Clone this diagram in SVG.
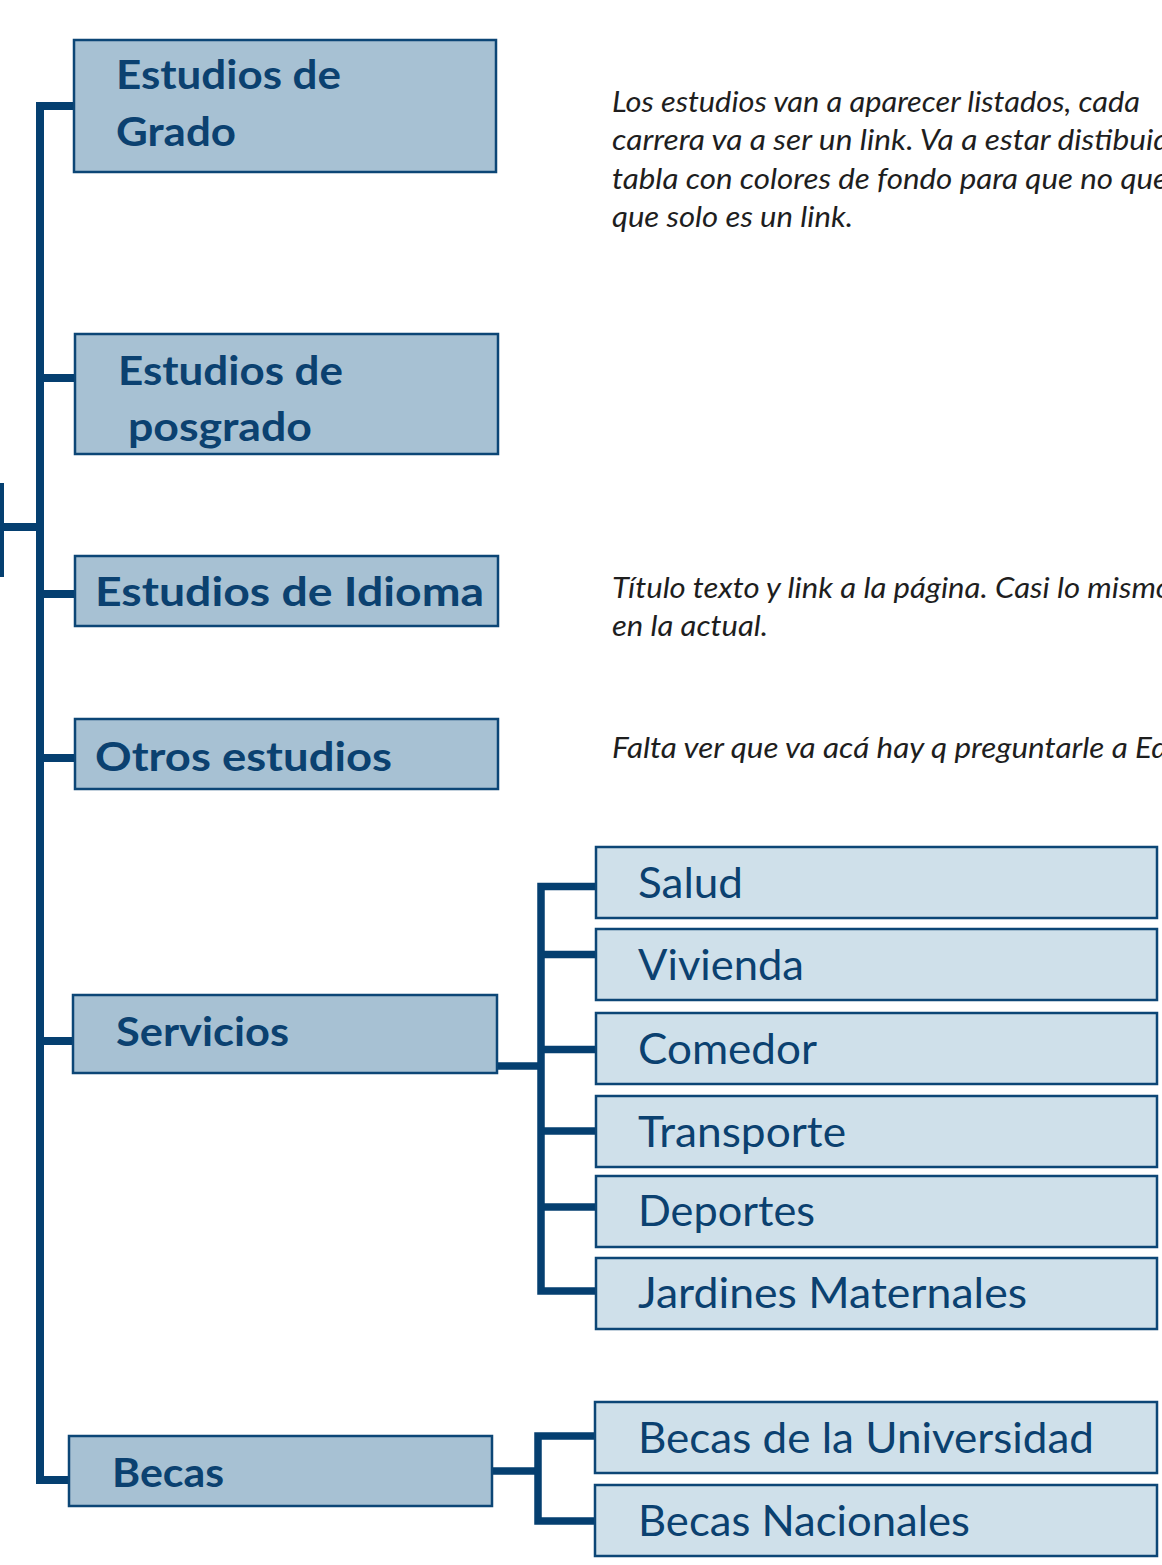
<svg xmlns="http://www.w3.org/2000/svg" width="1162" height="1565" viewBox="0 0 1162 1565">
<style>
.main rect{fill:#a7c1d3;stroke:#0c4676;stroke-width:2.5}
.sub rect{fill:#cfe0ea;stroke:#0c4676;stroke-width:2.5}
.hb{font-family:Lato,"Liberation Sans",sans-serif;font-weight:700;font-size:41px;fill:#0b4170}
.hs{font-family:Lato,"Liberation Sans",sans-serif;font-weight:400;font-size:42px;fill:#0b4170}
.note{font-family:Lato,"Liberation Sans",sans-serif;font-style:italic;font-size:28px;fill:#1e1e1e}
.conn path{fill:none;stroke:#053f70;stroke-width:8;stroke-linejoin:miter;stroke-linecap:butt}
.conn .thin{stroke-width:4}
.conn .s{stroke-width:7.5}
</style>
<rect width="1162" height="1565" fill="#fff"/>
<g id="connectors" class="conn">
<path d="M74 106 H40 V1480 H69"/>
<path d="M40 378 H75"/>
<path d="M40 594 H75"/>
<path d="M40 758 H75"/>
<path d="M40 1041 H73"/>
<path d="M0 527 H40"/>
<path class="thin" d="M2 483 V577"/>
<path class="s" d="M497 1066 H541"/>
<path class="s" d="M595 886.5 H541 V1291 H595"/>
<path class="s" d="M541 954.5 H595"/>
<path class="s" d="M541 1049.5 H595"/>
<path class="s" d="M541 1131 H595"/>
<path class="s" d="M541 1207 H595"/>
<path class="s" d="M492 1471 H538"/>
<path class="s" d="M595 1436 H538 V1521 H595"/>
</g>
<g id="grado" class="main"><rect x="74" y="40" width="422" height="132"/>
<text class="hb" x="116" y="89" textLength="225" lengthAdjust="spacingAndGlyphs">Estudios de</text>
<text class="hb" x="116" y="146" textLength="120" lengthAdjust="spacingAndGlyphs">Grado</text></g>
<g id="posgrado" class="main"><rect x="75" y="334" width="423" height="120"/>
<text class="hb" x="118" y="385" textLength="225" lengthAdjust="spacingAndGlyphs">Estudios de</text>
<text class="hb" x="128" y="441" textLength="184" lengthAdjust="spacingAndGlyphs">posgrado</text></g>
<g id="idioma" class="main"><rect x="75" y="556" width="423" height="70"/>
<text class="hb" x="95" y="606" textLength="389" lengthAdjust="spacingAndGlyphs">Estudios de Idioma</text></g>
<g id="otros" class="main"><rect x="75" y="719" width="423" height="70"/>
<text class="hb" x="95" y="771" textLength="297" lengthAdjust="spacingAndGlyphs">Otros estudios</text></g>
<g id="servicios" class="main"><rect x="73" y="995" width="424" height="78"/>
<text class="hb" x="116" y="1046" textLength="173" lengthAdjust="spacingAndGlyphs">Servicios</text></g>
<g id="becas" class="main"><rect x="69" y="1436" width="423" height="70"/>
<text class="hb" x="112" y="1487" textLength="112" lengthAdjust="spacingAndGlyphs">Becas</text></g>
<g id="salud" class="sub"><rect x="596" y="847" width="561" height="71"/>
<text class="hs" x="638" y="898" textLength="105" lengthAdjust="spacingAndGlyphs">Salud</text></g>
<g id="vivienda" class="sub"><rect x="596" y="929" width="561" height="71"/>
<text class="hs" x="638" y="980" textLength="166" lengthAdjust="spacingAndGlyphs">Vivienda</text></g>
<g id="comedor" class="sub"><rect x="596" y="1013" width="561" height="71"/>
<text class="hs" x="638" y="1064" textLength="179" lengthAdjust="spacingAndGlyphs">Comedor</text></g>
<g id="transporte" class="sub"><rect x="596" y="1096" width="561" height="71"/>
<text class="hs" x="638" y="1147" textLength="208" lengthAdjust="spacingAndGlyphs">Transporte</text></g>
<g id="deportes" class="sub"><rect x="596" y="1176" width="561" height="71"/>
<text class="hs" x="638" y="1226" textLength="177" lengthAdjust="spacingAndGlyphs">Deportes</text></g>
<g id="jardines" class="sub"><rect x="596" y="1258" width="561" height="71"/>
<text class="hs" x="638" y="1308" textLength="389" lengthAdjust="spacingAndGlyphs">Jardines Maternales</text></g>
<g id="becas-universidad" class="sub"><rect x="595" y="1402" width="562" height="71"/>
<text class="hs" x="638" y="1453" textLength="456" lengthAdjust="spacingAndGlyphs">Becas de la Universidad</text></g>
<g id="becas-nacionales" class="sub"><rect x="595" y="1485" width="562" height="71"/>
<text class="hs" x="638" y="1536" textLength="332" lengthAdjust="spacingAndGlyphs">Becas Nacionales</text></g>
<g id="notes">
<text class="note" x="612" y="112" textLength="528" lengthAdjust="spacingAndGlyphs">Los estudios van a aparecer listados, cada</text>
<text class="note" x="612" y="150" textLength="558" lengthAdjust="spacingAndGlyphs">carrera va a ser un link. Va a estar distibuid</text>
<text class="note" x="612" y="189" textLength="556" lengthAdjust="spacingAndGlyphs">tabla con colores de fondo para que no que</text>
<text class="note" x="612" y="227" textLength="241" lengthAdjust="spacingAndGlyphs">que solo es un link.</text>
<text class="note" x="612" y="598" textLength="560" lengthAdjust="spacingAndGlyphs">Título texto y link a la página. Casi lo mismo</text>
<text class="note" x="612" y="636" textLength="156" lengthAdjust="spacingAndGlyphs">en la actual.</text>
<text class="note" x="612" y="758" textLength="556" lengthAdjust="spacingAndGlyphs">Falta ver que va acá hay q preguntarle a Ed</text>
</g>
</svg>
